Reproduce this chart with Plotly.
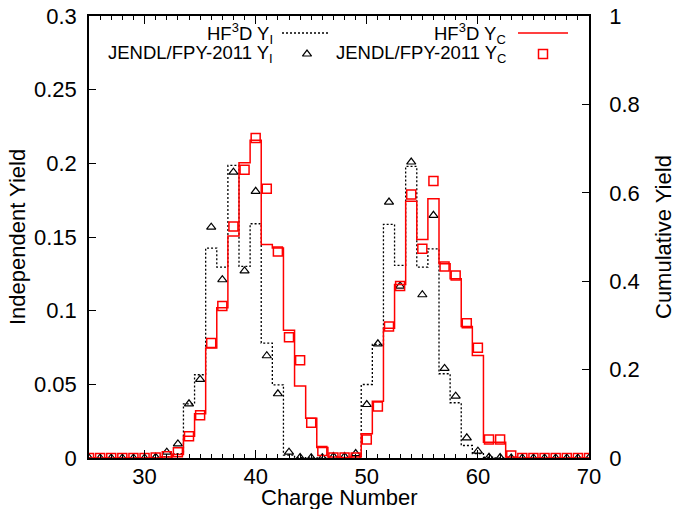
import plotly.graph_objects as go

# Charge number Z
charge = list(range(25, 71))

# HF3D independent yield Y_I (step line)
hf3d_yi = [0, 0, 0, 0, 0, 0, 0, 0.001, 0.003, 0.0368,
           0.0565, 0.1425, 0.1296, 0.1986, 0.130, 0.159, 0.078, 0.0497, 0.002, 0.0003,
           0, 0, 0, 0, 0.001, 0.0499, 0.0771, 0.1586, 0.1307, 0.1979,
           0.1296, 0.142, 0.0572, 0.0375, 0.0085, 0.003, 0.0005, 0, 0, 0,
           0, 0, 0, 0, 0, 0]

# JENDL/FPY-2011 independent yield Y_I (triangles)
jendl_yi = [0, 0, 0, 0, 0, 0, 0.0005, 0.004, 0.0096, 0.0368,
            0.0533, 0.1567, 0.121, 0.194, 0.127, 0.181, 0.0694, 0.0436, 0.004, 0.0003,
            0.0002, 0.0002, 0.001, 0.001, 0.003, 0.0363, 0.0775, 0.1737, 0.1167, 0.2009,
            0.1108, 0.1647, 0.0608, 0.042, 0.0137, 0.0046, 0.0005, 0.0003, 0, 0,
            0, 0, 0, 0, 0, 0]

# HF3D cumulative yield Y_C (step line, right axis)
hf3d_yc = [0, 0, 0, 0, 0, 0, 0, 0.002, 0.008, 0.049,
           0.100, 0.249, 0.340, 0.502, 0.668, 0.719, 0.483, 0.475, 0.289, 0.163,
           0.090, 0.024, 0.002, 0.001, 0.002, 0.0548, 0.1286, 0.2938, 0.3927, 0.5806,
           0.4946, 0.5867, 0.4396, 0.4056, 0.2976, 0.232, 0.0358, 0.0358, 0.002, 0,
           0, 0, 0, 0, 0, 0]

# JENDL/FPY-2011 cumulative yield Y_C (squares, right axis)
jendl_yc = [0, 0, 0, 0, 0, 0, 0.001, 0.004, 0.013, 0.049,
            0.097, 0.260, 0.344, 0.524, 0.652, 0.724, 0.609, 0.467, 0.273, 0.221,
            0.080, 0.016, 0.001, 0.001, 0.001, 0.042, 0.1166, 0.2976, 0.389, 0.5964,
            0.4735, 0.6266, 0.4335, 0.413, 0.305, 0.2494, 0.0419, 0.0419, 0.0057, 0,
            0, 0, 0, 0, 0, 0]

x_ticks = [30, 40, 50, 60, 70]
yi_ticks = [0, 0.05, 0.1, 0.15, 0.2, 0.25, 0.3]
yi_labels = ["0", "0.05", "0.1", "0.15", "0.2", "0.25", "0.3"]
yc_ticks = [0, 0.2, 0.4, 0.6, 0.8, 1]
yc_labels = ["0", "0.2", "0.4", "0.6", "0.8", "1"]

FONT = "Liberation Sans, Arial, sans-serif"
RED = "#ff0000"

fig = go.Figure()

fig.add_trace(go.Scatter(
    x=charge, y=hf3d_yi, mode="lines", line_shape="hvh",
    line=dict(color="black", width=1.3, dash="2px,2px"),
    xaxis="x", yaxis="y", showlegend=False))
fig.add_trace(go.Scatter(
    x=charge, y=jendl_yi, mode="markers",
    marker=dict(symbol="triangle-up-open", size=8, color="black",
                line=dict(width=1.2, color="black")),
    xaxis="x", yaxis="y", showlegend=False))
fig.add_trace(go.Scatter(
    x=charge, y=hf3d_yc, mode="lines", line_shape="hvh",
    line=dict(color=RED, width=1.5),
    xaxis="x", yaxis="y2", showlegend=False))
fig.add_trace(go.Scatter(
    x=charge, y=jendl_yc, mode="markers",
    marker=dict(symbol="square-open", size=9, color=RED,
                line=dict(width=1.5, color=RED)),
    xaxis="x", yaxis="y2", showlegend=False))

# Key samples, drawn on a hidden unit-square overlay axis
key_row1, key_row2 = 0.9615, 0.914
fig.add_trace(go.Scatter(
    x=[0.386, 0.478], y=[key_row1, key_row1], mode="lines",
    line=dict(color="black", width=1.3, dash="2px,2px"),
    xaxis="x3", yaxis="y3", showlegend=False, hoverinfo="skip"))
fig.add_trace(go.Scatter(
    x=[0.436], y=[key_row2], mode="markers",
    marker=dict(symbol="triangle-up-open", size=8, color="black",
                line=dict(width=1.2, color="black")),
    xaxis="x3", yaxis="y3", showlegend=False, hoverinfo="skip"))
fig.add_trace(go.Scatter(
    x=[0.858, 0.958], y=[key_row1, key_row1], mode="lines",
    line=dict(color=RED, width=1.5),
    xaxis="x3", yaxis="y3", showlegend=False, hoverinfo="skip"))
fig.add_trace(go.Scatter(
    x=[0.908], y=[key_row2], mode="markers",
    marker=dict(symbol="square-open", size=9, color=RED,
                line=dict(width=1.5, color=RED)),
    xaxis="x3", yaxis="y3", showlegend=False, hoverinfo="skip"))

key_font = dict(family=FONT, size=18.5, color="black")
annotations = [
    dict(text="HF<sup>3</sup>D Y<sub>I</sub>", x=0.372, y=key_row1,
         xref="paper", yref="paper", xanchor="right", yanchor="middle",
         showarrow=False, font=key_font),
    dict(text="JENDL/FPY-2011 Y<sub>I</sub>", x=0.372, y=key_row2,
         xref="paper", yref="paper", xanchor="right", yanchor="middle",
         showarrow=False, font=key_font),
    dict(text="HF<sup>3</sup>D Y<sub>C</sub>", x=0.838, y=key_row1,
         xref="paper", yref="paper", xanchor="right", yanchor="middle",
         showarrow=False, font=key_font),
    dict(text="JENDL/FPY-2011 Y<sub>C</sub>", x=0.838, y=key_row2,
         xref="paper", yref="paper", xanchor="right", yanchor="middle",
         showarrow=False, font=key_font),
    # axis titles
    dict(text="Charge Number", x=0.5, y=-0.089, xref="paper", yref="paper",
         xanchor="center", yanchor="middle", showarrow=False,
         font=dict(family=FONT, size=22, color="black")),
    dict(text="Independent Yield", x=-0.144, y=0.5, xref="paper", yref="paper",
         xanchor="center", yanchor="middle", textangle=-90, showarrow=False,
         font=dict(family=FONT, size=22, color="black")),
    dict(text="Cumulative Yield", x=1.148, y=0.5, xref="paper", yref="paper",
         xanchor="center", yanchor="middle", textangle=-90, showarrow=False,
         font=dict(family=FONT, size=22, color="black")),
]

tick_font = dict(family=FONT, size=22, color="black")

fig.update_layout(
    width=676, height=509,
    margin=dict(l=89, r=87, t=16, b=51, pad=0, autoexpand=False),
    paper_bgcolor="white", plot_bgcolor="white",
    font=dict(family=FONT, color="black"),
    annotations=annotations,
    xaxis=dict(
        range=[25, 70], tickvals=x_ticks, ticks="inside", ticklen=8,
        tickwidth=1.2, tickcolor="black",
        minor=dict(dtick=1, tick0=25, ticks="inside", ticklen=4,
                   tickwidth=1, tickcolor="black"),
        showline=True, linecolor="black", linewidth=1.5, mirror="ticks",
        showgrid=False, zeroline=False, tickfont=tick_font,
        ticklabelstandoff=-2, automargin=False),
    yaxis=dict(
        range=[0, 0.3], tickvals=yi_ticks, ticktext=yi_labels,
        ticks="inside", ticklen=7, tickwidth=1.2, tickcolor="black",
        showline=True, linecolor="black", linewidth=1.5,
        showgrid=False, zeroline=False, tickfont=tick_font,
        ticklabelstandoff=6, automargin=False),
    yaxis2=dict(
        range=[0, 1], tickvals=yc_ticks, ticktext=yc_labels,
        overlaying="y", side="right", anchor="x",
        ticks="inside", ticklen=7, tickwidth=1.2, tickcolor="black",
        showline=True, linecolor="black", linewidth=1.5,
        showgrid=False, zeroline=False, tickfont=tick_font,
        ticklabelstandoff=14, automargin=False),
    xaxis3=dict(range=[0, 1], overlaying="x", visible=False, anchor="y3"),
    yaxis3=dict(range=[0, 1], overlaying="y", visible=False, anchor="x3"),
)

fig.write_html("out.html")
